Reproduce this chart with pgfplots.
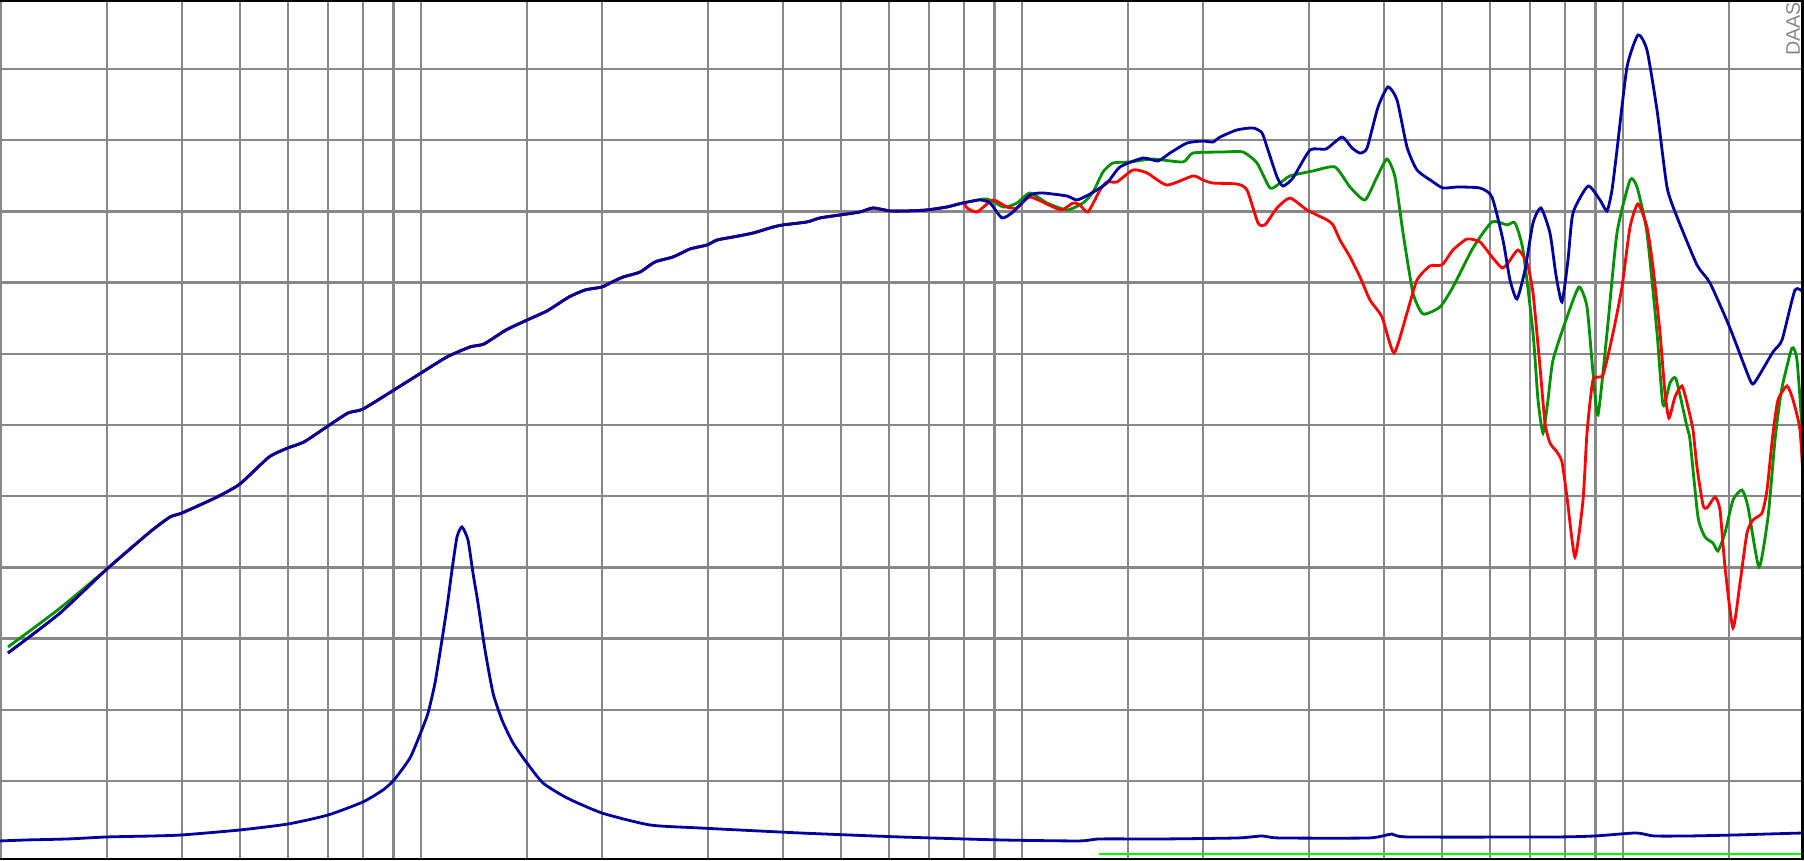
\documentclass[border=0pt]{standalone}
\usepackage{pgfplots}
\usepackage{pgfplotstable}
\usepackage{fontspec}
\pgfplotsset{compat=1.18}
\newfontfamily\labfont{Liberation Sans}
\definecolor{cblue}{RGB}{0,0,160}
\definecolor{cred}{RGB}{255,0,0}
\definecolor{cgreen}{RGB}{0,145,0}
\definecolor{clime}{RGB}{0,255,0}
\definecolor{gridgray}{RGB}{136,136,136}
\definecolor{daasgray}{RGB}{135,135,135}

% x = log10(frequency / Hz), y = level (dB, 5 dB per grid division)
\pgfplotstableread{
logf dB
1.3126 13.99
1.3975 16.73
1.4773 19.89
1.5489 22.49
1.5822 23.54
1.6021 23.82
1.6604 24.94
1.6986 25.86
1.7469 27.75
1.7785 28.39
1.8051 28.81
1.8451 29.93
1.8783 30.84
1.9033 31.12
1.9549 32.46
1.9998 33.65
2.0431 34.78
2.0813 35.48
2.1046 35.69
2.1412 36.67
2.1762 37.37
2.2095 38.01
2.2461 38.99
2.2727 39.48
2.3010 39.69
2.3143 39.97
2.3359 40.39
2.3642 40.74
2.3892 41.45
2.4191 41.80
2.4474 42.36
2.4757 42.64
2.4923 42.99
2.5189 43.20
2.5522 43.48
2.5855 43.90
2.6021 44.05
2.6421 44.26
2.6637 44.54
2.6970 44.75
2.7303 44.96
2.7519 45.24
2.7802 45.03
2.8085 45.03
2.8417 45.10
2.8750 45.31
2.9016 45.59
2.9299 45.80
2.9466 45.59
2.9665 44.54
2.9848 44.96
3.0131 46.15
3.0347 46.29
3.0747 46.08
3.0913 45.80
3.1130 46.22
3.1412 46.99
3.1629 48.12
3.2011 48.75
3.2261 48.54
3.2461 49.10
3.2743 49.80
3.3010 49.94
3.3176 49.87
3.3293 50.22
3.3575 50.72
3.3842 50.86
3.3991 50.51
3.4091 49.31
3.4241 47.42
3.4341 46.78
3.4507 47.35
3.4790 49.31
3.5056 49.38
3.5323 50.22
3.5489 49.45
3.5622 49.10
3.5739 49.45
3.5922 52.33
3.6088 53.74
3.6238 52.82
3.6404 49.52
3.6570 47.91
3.6837 47.07
3.7003 46.64
3.7236 46.71
3.7619 46.64
3.7818 46.01
3.8001 42.99
3.8118 40.18
3.8234 38.85
3.8367 40.89
3.8501 44.19
3.8633 45.24
3.8783 43.48
3.8883 40.53
3.8983 38.64
3.9083 41.59
3.9166 44.89
3.9416 46.78
3.9615 45.80
3.9732 45.03
3.9815 46.50
3.9898 49.31
4.0065 55.14
4.0248 57.39
4.0397 56.33
4.0564 52.12
4.0730 46.71
4.0897 44.61
4.1229 41.24
4.1446 39.97
4.1778 36.81
4.2111 33.16
4.2194 33.02
4.2494 35.13
4.2644 35.97
4.2860 39.48
4.3010 39.27
}\tblue

\pgfplotstableread{
logf dB
1.3126 14.41
1.3975 17.08
1.4773 19.89
1.5489 22.49
1.5822 23.54
1.6021 23.82
1.6604 24.94
1.6986 25.86
1.7469 27.75
1.7785 28.39
1.8051 28.81
1.8451 29.93
1.8783 30.84
1.9033 31.12
1.9549 32.46
1.9998 33.65
2.0431 34.78
2.0813 35.48
2.1046 35.69
2.1412 36.67
2.1762 37.37
2.2095 38.01
2.2461 38.99
2.2727 39.48
2.3010 39.69
2.3143 39.97
2.3359 40.39
2.3642 40.74
2.3892 41.45
2.4191 41.80
2.4474 42.36
2.4757 42.64
2.4923 42.99
2.5189 43.20
2.5522 43.48
2.5855 43.90
2.6021 44.05
2.6421 44.26
2.6637 44.54
2.6970 44.75
2.7303 44.96
2.7519 45.24
2.7802 45.03
2.8085 45.03
2.8417 45.10
2.8750 45.31
2.9016 45.59
2.9349 45.87
2.9466 45.80
2.9682 45.31
2.9748 45.31
2.9915 45.59
3.0131 46.29
3.0414 45.59
3.0747 45.10
3.1013 45.59
3.1179 46.36
3.1346 47.77
3.1512 48.40
3.1795 48.47
3.2178 48.68
3.2677 48.47
3.2843 49.10
3.3342 49.17
3.3675 49.17
3.3908 48.40
3.4125 46.64
3.4291 46.99
3.4457 47.49
3.4840 47.84
3.5206 48.12
3.5456 46.71
3.5705 45.80
3.5905 47.42
3.6071 48.68
3.6204 47.42
3.6338 43.48
3.6504 39.27
3.6670 37.80
3.6953 38.29
3.7169 39.69
3.7502 42.43
3.7818 44.26
3.8068 44.05
3.8201 44.19
3.8334 42.29
3.8501 36.46
3.8584 31.76
3.8667 29.44
3.8750 31.76
3.8833 34.56
3.9066 37.58
3.9266 39.69
3.9399 38.29
3.9499 33.65
3.9582 30.70
3.9732 36.46
3.9898 43.48
4.0115 47.20
4.0231 46.71
4.0397 43.48
4.0564 36.46
4.0664 31.40
4.0780 32.95
4.0880 33.23
4.1063 29.86
4.1113 28.94
4.1246 23.54
4.1362 22.14
4.1496 21.71
4.1579 21.15
4.1695 22.42
4.1828 24.73
4.1978 25.43
4.2078 24.24
4.2261 20.03
4.2411 23.54
4.2527 28.94
4.2610 31.76
4.2660 32.95
4.2810 35.41
4.2893 34.56
4.2977 29.86
4.3010 28.60
}\tgreen

\pgfplotstableread{
logf dB
1.3126 13.99
1.3975 16.73
1.4773 19.89
1.5489 22.49
1.5822 23.54
1.6021 23.82
1.6604 24.94
1.6986 25.86
1.7469 27.75
1.7785 28.39
1.8051 28.81
1.8451 29.93
1.8783 30.84
1.9033 31.12
1.9549 32.46
1.9998 33.65
2.0431 34.78
2.0813 35.48
2.1046 35.69
2.1412 36.67
2.1762 37.37
2.2095 38.01
2.2461 38.99
2.2727 39.48
2.3010 39.69
2.3143 39.97
2.3359 40.39
2.3642 40.74
2.3892 41.45
2.4191 41.80
2.4474 42.36
2.4757 42.64
2.4923 42.99
2.5189 43.20
2.5522 43.48
2.5855 43.90
2.6021 44.05
2.6421 44.26
2.6637 44.54
2.6970 44.75
2.7303 44.96
2.7519 45.24
2.7802 45.03
2.8085 45.03
2.8417 45.10
2.8750 45.31
2.9016 45.59
2.9083 45.24
2.9249 44.96
2.9515 45.80
2.9748 45.31
2.9915 45.24
3.0131 46.01
3.0514 45.31
3.0664 45.10
3.0847 45.59
3.0963 45.45
3.1096 44.96
3.1296 46.50
3.1412 47.07
3.1579 47.07
3.1845 47.91
3.2078 47.70
3.2411 46.85
3.2843 47.49
3.3010 47.20
3.3176 46.99
3.3575 46.92
3.3742 46.50
3.3925 44.19
3.4041 44.05
3.4241 45.24
3.4457 45.94
3.4740 45.10
3.5073 44.40
3.5173 44.05
3.5289 42.99
3.5456 41.80
3.5622 40.39
3.5788 38.78
3.5988 37.58
3.6188 35.06
3.6404 37.87
3.6570 40.18
3.6787 41.17
3.6986 41.24
3.7169 42.29
3.7402 43.06
3.7619 42.85
3.7818 41.80
3.7985 41.03
3.8085 41.38
3.8251 42.29
3.8401 41.38
3.8501 39.27
3.8617 34.07
3.8700 30.14
3.8783 28.74
3.8900 28.10
3.8983 27.40
3.9066 24.94
3.9199 20.73
3.9333 24.73
3.9399 29.44
3.9499 33.16
3.9665 33.51
3.9832 36.46
3.9981 39.69
4.0115 43.90
4.0248 45.52
4.0397 43.90
4.0497 41.10
4.0614 36.46
4.0697 32.25
4.0763 30.49
4.0863 31.97
4.0980 32.74
4.1080 31.25
4.1163 29.65
4.1229 27.05
4.1329 24.38
4.1396 24.17
4.1529 24.94
4.1612 24.03
4.1695 20.03
4.1828 15.75
4.1945 18.90
4.2061 22.42
4.2161 23.33
4.2311 23.82
4.2394 25.43
4.2494 29.44
4.2577 31.76
4.2727 32.74
4.2827 31.76
4.2943 29.65
4.3010 25.08
}\tred

\pgfplotstableread{
logf dB
1.2993 0.79
1.3442 0.86
1.4124 0.93
1.4773 1.07
1.5539 1.14
1.6021 1.21
1.6986 1.56
1.7785 1.98
1.8451 2.61
1.9033 3.53
1.9366 4.37
1.9549 5.07
1.9815 6.62
1.9998 8.44
2.0115 9.77
2.0231 11.88
2.0347 14.90
2.0431 17.22
2.0514 19.82
2.0597 22.14
2.0680 22.84
2.0780 21.92
2.0863 19.61
2.0946 17.50
2.1063 14.20
2.1196 11.18
2.1346 9.28
2.1529 7.67
2.1762 6.26
2.2028 4.86
2.2427 3.81
2.3010 2.75
2.3808 1.91
2.4640 1.70
2.6304 1.35
2.7968 1.07
2.9632 0.86
3.0947 0.79
3.1296 0.93
3.2361 0.93
3.3592 1.00
3.3991 1.14
3.4276 1.00
3.5771 1.00
3.6154 1.28
3.6420 1.07
3.8883 1.07
3.9532 1.14
4.0214 1.35
4.0514 1.14
4.1113 1.14
4.1878 1.21
4.2428 1.28
4.3010 1.35
}\timp

\pgfplotstableread{
logf dB
3.1279 -0.13
4.3010 -0.13
}\tlime

\begin{document}
\begin{tikzpicture}
\path[use as bounding box] (0,0) rectangle (180.4mm,86mm);
\begin{axis}[
  at={(0,0)}, anchor=south west,
  scale only axis, width=180.4mm, height=86mm,
  xmin=1.2993, xmax=4.3010, ymin=-0.548, ymax=59.846,
  axis line style={draw=none},
  xtick={1.30103,1.47712,1.60206,1.69897,1.77815,1.84510,1.90309,1.95424,2,2.17609,
         2.30103,2.47712,2.60206,2.69897,2.77815,2.84510,2.90309,2.95424,3,3.17609,
         3.30103,3.47712,3.60206,3.69897,3.77815,3.84510,3.90309,3.95424,4,4.17609},
  ytick={5,10,...,55},
  xticklabels={}, yticklabels={},
  major tick length=0pt,
  grid=major,
  major grid style={draw=gridgray, line width=0.24mm},
  clip=true,
]
\addplot[clime, line width=0.22mm] table[x=logf,y=dB] {\tlime};
\addplot[cblue, line width=0.28mm, smooth, tension=0.35] table[x=logf,y=dB] {\timp};
\addplot[cgreen, line width=0.28mm, smooth, tension=0.35] table[x=logf,y=dB] {\tgreen};
\addplot[cred, line width=0.28mm, smooth, tension=0.35] table[x=logf,y=dB] {\tred};
\addplot[cblue, line width=0.28mm, smooth, tension=0.35] table[x=logf,y=dB] {\tblue};
\draw[black, line width=0.45mm] (rel axis cs:0,1) -- (rel axis cs:1,1);
\draw[black, line width=0.6mm] (rel axis cs:1,1) -- (rel axis cs:1,0);
\draw[black, line width=0.4mm] (rel axis cs:0,0) -- (rel axis cs:1,0);
\node[rotate=90, text=daasgray, font=\labfont\fontsize{5.6}{7}\selectfont, inner sep=0pt]
  at (axis cs:4.2830,57.8) {DAAS};
\end{axis}
\end{tikzpicture}
\end{document}
